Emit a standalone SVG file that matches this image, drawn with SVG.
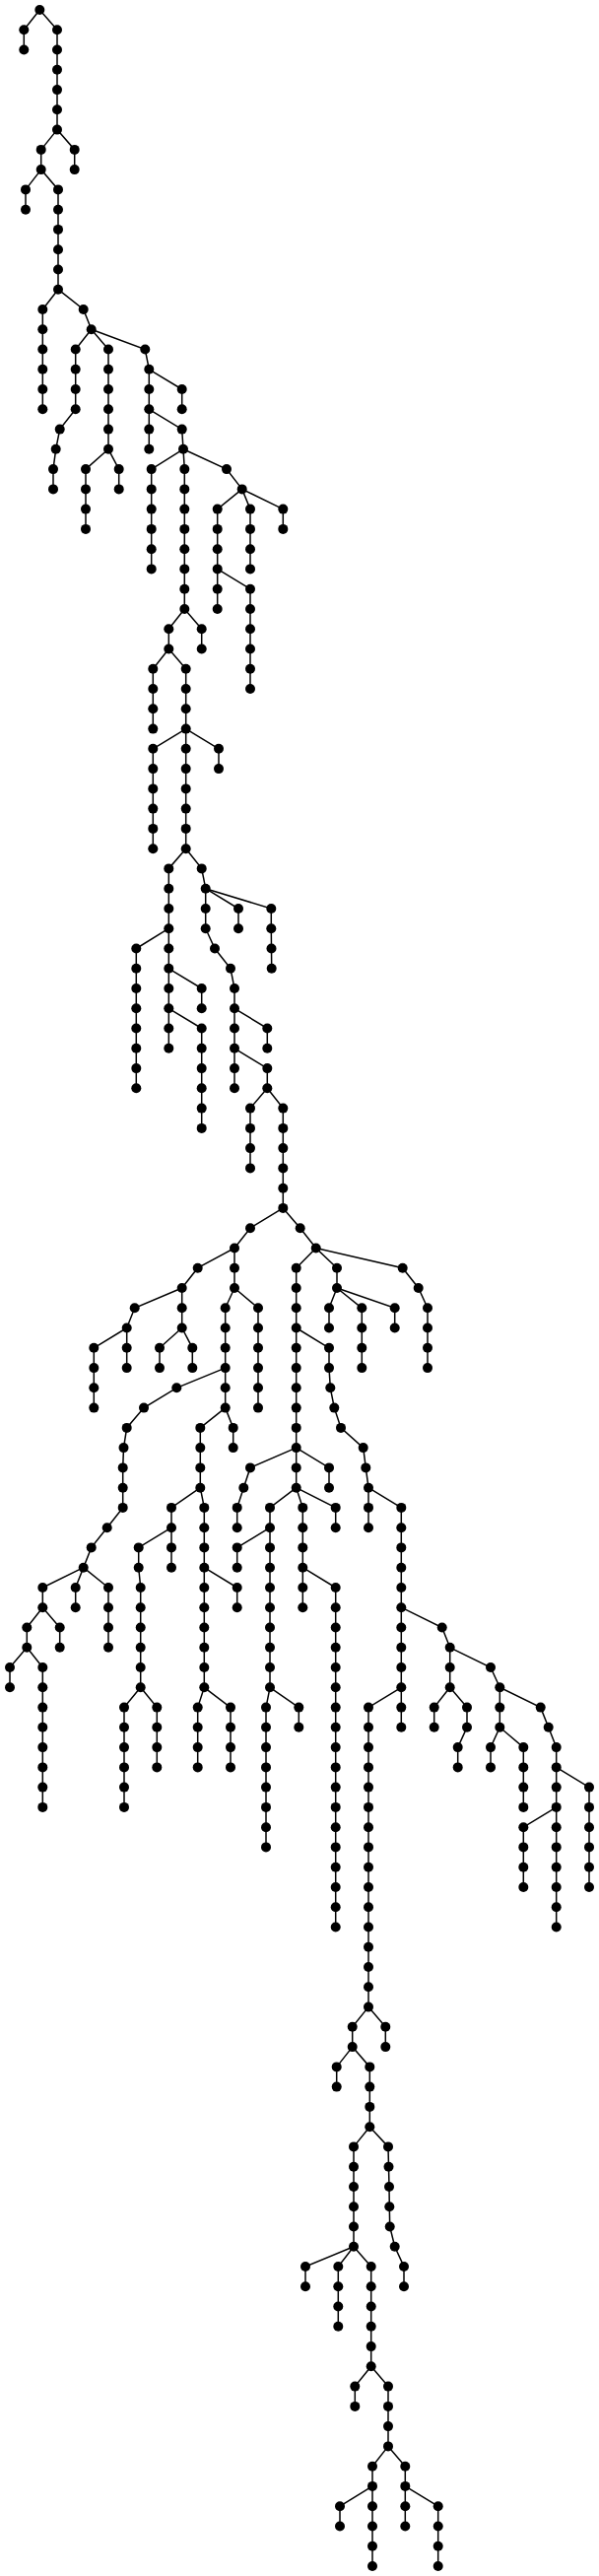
<svg xmlns="http://www.w3.org/2000/svg" width="608" height="2614" viewBox="0 0 608 2614">
<style>
.bg{fill:#fff}
.e path{fill:none;stroke:#000;stroke-width:1.5}
.n circle{fill:#000}
</style>
<rect class="bg" x="0" y="0" width="608" height="2614"/>
<g id="connectors" class="e">
<path d="M40.3 10L24.3 30.3L24.3 50.5"/>
<path d="M40.3 10L58 30.3L58 131.6"/>
<path d="M58 131.6L41.7 151.9L41.7 172.1"/>
<path d="M58 131.6L75.7 151.9L75.7 172.1"/>
<path d="M41.7 172.1L26 192.4L26 212.7"/>
<path d="M41.7 172.1L59 192.4L59 293.7"/>
<path d="M59 293.7L43.3 314L43.3 415.3"/>
<path d="M59 293.7L84.7 314L92.7 334.3"/>
<path d="M92.7 334.3L76.7 354.5L76.7 415.3L60.7 435.6L56.7 455.8L54 476.1L54 496.4"/>
<path d="M92.7 334.3L110 354.5L110 455.8"/>
<path d="M110 455.8L87 476.1L87 536.9"/>
<path d="M110 455.8L120.7 476.1L120.7 496.4"/>
<path d="M92.7 334.3L147.3 354.5L151.3 374.8L151.3 455.8"/>
<path d="M151.3 374.8L184.7 395L184.7 415.3"/>
<path d="M151.3 415.3L184.7 435.6L186 455.8"/>
<path d="M186 455.8L153.7 476.1L153.7 577.4"/>
<path d="M186 455.8L187.3 476.1L187.3 618"/>
<path d="M186 455.8L230 476.1L245.7 496.4"/>
<path d="M245.7 496.4L220.7 516.6L220.7 618"/>
<path d="M245.7 496.4L254 516.6L254 577.4"/>
<path d="M245.7 496.4L287.3 516.6L287.3 536.9"/>
<path d="M220.7 577.4L254 597.7L254 699"/>
<path d="M187.3 618L171.3 638.2L171.3 658.5"/>
<path d="M187.3 618L204.7 638.2L204.7 658.5"/>
<path d="M171.3 658.5L155.3 678.8L155.3 739.6"/>
<path d="M171.3 658.5L188.7 678.8L188.7 739.6"/>
<path d="M188.7 739.6L155.3 759.8L155.3 861.2"/>
<path d="M188.7 739.6L188.7 861.2"/>
<path d="M188.7 739.6L222 759.8L222 780.1"/>
<path d="M188.7 861.2L171.3 881.4L171.3 942.2"/>
<path d="M188.7 861.2L204.7 881.4L208.7 901.7"/>
<path d="M208.7 901.7L208.7 942.2L218 962.5L234 982.8L238 1003L238 1023.3"/>
<path d="M208.7 901.7L242 922L242 942.2"/>
<path d="M208.7 901.7L275.3 922L275.3 942.2L275.5 962.5L275.7 982.8"/>
<path d="M171.3 942.2L138.3 962.5L138.3 1104.3"/>
<path d="M171.3 942.2L171.3 982.8"/>
<path d="M171.3 982.8L171.3 1023.3"/>
<path d="M171.3 982.8L204.7 1003L204.7 1023.3"/>
<path d="M171.3 1023.3L171.3 1063.8"/>
<path d="M171.3 1023.3L204.7 1043.5L204.7 1144.9"/>
<path d="M238 1023.3L238 1063.8"/>
<path d="M238 1023.3L271.3 1043.5L271.3 1063.8"/>
<path d="M238 1063.8L238 1104.3"/>
<path d="M238 1063.8L271.3 1084.1L271.3 1104.3"/>
<path d="M271.3 1104.3L254 1124.6L254 1185.4"/>
<path d="M271.3 1104.3L287.3 1124.6L287.3 1225.9"/>
<path d="M287.3 1225.9L254 1246.2L238 1266.5"/>
<path d="M238 1266.5L200.7 1286.7L184.7 1307"/>
<path d="M238 1266.5L238 1307"/>
<path d="M184.7 1307L136.7 1327.3L128.7 1347.5"/>
<path d="M184.7 1307L184.7 1347.5"/>
<path d="M128.7 1347.5L95.3 1367.8L95.3 1428.6"/>
<path d="M128.7 1347.5L128.7 1388.1"/>
<path d="M184.7 1347.5L162 1367.8L162 1388.1"/>
<path d="M184.7 1347.5L195.3 1367.8L195.3 1388.1"/>
<path d="M238 1307L228.7 1327.3L228.7 1388.1"/>
<path d="M238 1307L262 1327.3L262 1428.6"/>
<path d="M228.7 1388.1L179.3 1408.3L146 1428.6L128.7 1448.9L125.5 1469.1L124.7 1489.4L124.7 1529.9L108.7 1550.2L92.7 1570.4L84.7 1590.7"/>
<path d="M228.7 1388.1L228.7 1428.6"/>
<path d="M228.7 1428.6L203.3 1448.9L203.3 1509.7"/>
<path d="M228.7 1428.6L236.7 1448.9L236.7 1469.1"/>
<path d="M84.7 1590.7L43.3 1611L43.3 1631.2"/>
<path d="M84.7 1590.7L76.7 1611L76.7 1631.2"/>
<path d="M84.7 1590.7L110 1611L110 1671.8"/>
<path d="M43.3 1631.2L27.3 1651.5L27.3 1671.8"/>
<path d="M43.3 1631.2L60.7 1651.5L60.7 1671.8"/>
<path d="M27.3 1671.8L10 1692L10 1712.3"/>
<path d="M27.3 1671.8L43.3 1692L43.3 1833.9"/>
<path d="M203.3 1509.7L174 1529.9L174 1550.2"/>
<path d="M203.3 1509.7L207.3 1529.9L207.3 1590.7"/>
<path d="M174 1550.2L140.7 1570.4L140.7 1590.7L142.7 1611L142.7 1712.3"/>
<path d="M174 1550.2L174 1590.7"/>
<path d="M142.7 1712.3L126 1732.6L126 1833.9"/>
<path d="M142.7 1712.3L159.3 1732.6L159.3 1793.4"/>
<path d="M207.3 1590.7L207.3 1712.3"/>
<path d="M207.3 1590.7L240.7 1611L240.7 1631.2"/>
<path d="M207.3 1712.3L200.7 1732.6L200.7 1793.4"/>
<path d="M207.3 1712.3L234 1732.6L234 1793.4"/>
<path d="M287.3 1225.9L304.7 1246.2L320.7 1266.5"/>
<path d="M320.7 1266.5L300.7 1286.7L300.7 1347.5"/>
<path d="M300.7 1347.5L300.7 1469.1"/>
<path d="M300.7 1347.5L334 1367.8L334 1388.1L335.3 1408.3L339.3 1428.6L346 1448.9L368.7 1469.1L371.3 1489.4L374 1509.7"/>
<path d="M320.7 1266.5L342 1286.7L342 1307"/>
<path d="M342 1307L334 1327.3L334 1347.5"/>
<path d="M342 1307L367.3 1327.3L367.3 1388.1"/>
<path d="M342 1307L400.7 1327.3L400.7 1347.5"/>
<path d="M320.7 1266.5L408.7 1286.7L424.7 1307L434 1327.3L434 1388.1"/>
<path d="M300.7 1469.1L254 1489.4L247.3 1509.7L240.7 1529.9L240.7 1550.2"/>
<path d="M300.7 1469.1L300.7 1509.7"/>
<path d="M300.7 1469.1L334 1489.4L334 1509.7"/>
<path d="M300.7 1509.7L274 1529.9L274 1550.2"/>
<path d="M300.7 1509.7L307.3 1529.9L307.3 1590.7"/>
<path d="M300.7 1509.7L340.7 1529.9L340.7 1550.2"/>
<path d="M274 1550.2L240.7 1570.4L240.7 1590.7"/>
<path d="M274 1550.2L274 1712.3"/>
<path d="M274 1712.3L270 1732.6L270 1874.4"/>
<path d="M274 1712.3L303.3 1732.6L303.3 1752.8"/>
<path d="M307.3 1590.7L307.3 1631.2"/>
<path d="M307.3 1590.7L340.7 1611L340.7 1955.5"/>
<path d="M374 1509.7L374 1550.2"/>
<path d="M374 1509.7L407.3 1529.9L407.3 1631.2"/>
<path d="M407.3 1631.2L407.3 1712.3"/>
<path d="M407.3 1631.2L448.7 1651.5L456.7 1671.8"/>
<path d="M407.3 1712.3L374 1732.6L374 2036.6"/>
<path d="M407.3 1712.3L407.3 1752.8"/>
<path d="M456.7 1671.8L456.7 1712.3"/>
<path d="M456.7 1671.8L498 1692L507.3 1712.3"/>
<path d="M456.7 1712.3L440.7 1732.6L440.7 1752.8"/>
<path d="M456.7 1712.3L474 1732.6L474 1752.8L464.7 1773.1L464.7 1793.4"/>
<path d="M507.3 1712.3L507.3 1752.8"/>
<path d="M507.3 1712.3L548.7 1732.6L556.7 1752.8L564.7 1773.1L564.7 1793.4"/>
<path d="M507.3 1752.8L498 1773.1L498 1793.4"/>
<path d="M507.3 1752.8L531.3 1773.1L531.3 1833.9"/>
<path d="M564.7 1793.4L564.7 1833.9"/>
<path d="M564.7 1793.4L598 1813.6L598 1915"/>
<path d="M564.7 1833.9L531.3 1854.2L531.3 1915"/>
<path d="M564.7 1833.9L564.7 1955.5"/>
<path d="M374 2036.6L357.7 2056.8L357.7 2077.1"/>
<path d="M374 2036.6L391.3 2056.8L391.3 2077.1"/>
<path d="M357.7 2077.1L341.7 2097.4L341.7 2117.6"/>
<path d="M357.7 2077.1L375.3 2097.4L375.3 2158.2"/>
<path d="M375.3 2158.2L359 2178.4L359 2279.8"/>
<path d="M375.3 2158.2L394 2178.4L394.5 2198.7L395 2219L395.3 2239.2L395.7 2259.5L400.7 2279.8L410 2300L410 2320.3"/>
<path d="M359 2279.8L310 2300L310 2320.3"/>
<path d="M359 2279.8L343.3 2300L343.3 2360.8"/>
<path d="M359 2279.8L376.7 2300L376.7 2401.3"/>
<path d="M376.7 2401.3L360.3 2421.6L360.3 2441.9"/>
<path d="M376.7 2401.3L394 2421.6L394 2482.4"/>
<path d="M394 2482.4L378 2502.7L378 2522.9"/>
<path d="M394 2482.4L411.3 2502.7L411.3 2522.9"/>
<path d="M378 2522.9L345 2543.2L345 2563.5"/>
<path d="M378 2522.9L378 2604"/>
<path d="M411.3 2522.9L411.3 2563.5"/>
<path d="M411.3 2522.9L444.7 2543.2L444.7 2604"/>
</g>
<g id="nodes" class="n">
<g id="n0"><circle cx="40.3" cy="10" r="5"/></g>
<g id="n1"><circle cx="24.3" cy="30.3" r="5"/></g>
<g id="n2"><circle cx="24.3" cy="50.5" r="5"/></g>
<g id="n3"><circle cx="58" cy="30.3" r="5"/></g>
<g id="n4"><circle cx="58" cy="50.5" r="5"/></g>
<g id="n5"><circle cx="58" cy="70.8" r="5"/></g>
<g id="n6"><circle cx="58" cy="91.1" r="5"/></g>
<g id="n7"><circle cx="58" cy="111.3" r="5"/></g>
<g id="n8"><circle cx="58" cy="131.6" r="5"/></g>
<g id="n9"><circle cx="41.7" cy="151.9" r="5"/></g>
<g id="n10"><circle cx="41.7" cy="172.1" r="5"/></g>
<g id="n11"><circle cx="75.7" cy="151.9" r="5"/></g>
<g id="n12"><circle cx="75.7" cy="172.1" r="5"/></g>
<g id="n13"><circle cx="26" cy="192.4" r="5"/></g>
<g id="n14"><circle cx="26" cy="212.7" r="5"/></g>
<g id="n15"><circle cx="59" cy="192.4" r="5"/></g>
<g id="n16"><circle cx="59" cy="212.7" r="5"/></g>
<g id="n17"><circle cx="59" cy="232.9" r="5"/></g>
<g id="n18"><circle cx="59" cy="253.2" r="5"/></g>
<g id="n19"><circle cx="59" cy="273.5" r="5"/></g>
<g id="n20"><circle cx="59" cy="293.7" r="5"/></g>
<g id="n21"><circle cx="43.3" cy="314" r="5"/></g>
<g id="n22"><circle cx="43.3" cy="334.3" r="5"/></g>
<g id="n23"><circle cx="43.3" cy="354.5" r="5"/></g>
<g id="n24"><circle cx="43.3" cy="374.8" r="5"/></g>
<g id="n25"><circle cx="43.3" cy="395" r="5"/></g>
<g id="n26"><circle cx="43.3" cy="415.3" r="5"/></g>
<g id="n27"><circle cx="84.7" cy="314" r="5"/></g>
<g id="n28"><circle cx="92.7" cy="334.3" r="5"/></g>
<g id="n29"><circle cx="76.7" cy="354.5" r="5"/></g>
<g id="n30"><circle cx="76.7" cy="374.8" r="5"/></g>
<g id="n31"><circle cx="76.7" cy="395" r="5"/></g>
<g id="n32"><circle cx="76.7" cy="415.3" r="5"/></g>
<g id="n33"><circle cx="60.7" cy="435.6" r="5"/></g>
<g id="n34"><circle cx="56.7" cy="455.8" r="5"/></g>
<g id="n35"><circle cx="54" cy="476.1" r="5"/></g>
<g id="n36"><circle cx="54" cy="496.4" r="5"/></g>
<g id="n37"><circle cx="110" cy="354.5" r="5"/></g>
<g id="n38"><circle cx="110" cy="374.8" r="5"/></g>
<g id="n39"><circle cx="110" cy="395" r="5"/></g>
<g id="n40"><circle cx="110" cy="415.3" r="5"/></g>
<g id="n41"><circle cx="110" cy="435.6" r="5"/></g>
<g id="n42"><circle cx="110" cy="455.8" r="5"/></g>
<g id="n43"><circle cx="87" cy="476.1" r="5"/></g>
<g id="n44"><circle cx="87" cy="496.4" r="5"/></g>
<g id="n45"><circle cx="87" cy="516.6" r="5"/></g>
<g id="n46"><circle cx="87" cy="536.9" r="5"/></g>
<g id="n47"><circle cx="120.7" cy="476.1" r="5"/></g>
<g id="n48"><circle cx="120.7" cy="496.4" r="5"/></g>
<g id="n49"><circle cx="147.3" cy="354.5" r="5"/></g>
<g id="n50"><circle cx="151.3" cy="374.8" r="5"/></g>
<g id="n51"><circle cx="151.3" cy="395" r="5"/></g>
<g id="n52"><circle cx="151.3" cy="415.3" r="5"/></g>
<g id="n53"><circle cx="151.3" cy="435.6" r="5"/></g>
<g id="n54"><circle cx="151.3" cy="455.8" r="5"/></g>
<g id="n55"><circle cx="184.7" cy="395" r="5"/></g>
<g id="n56"><circle cx="184.7" cy="415.3" r="5"/></g>
<g id="n57"><circle cx="184.7" cy="435.6" r="5"/></g>
<g id="n58"><circle cx="186" cy="455.8" r="5"/></g>
<g id="n59"><circle cx="153.7" cy="476.1" r="5"/></g>
<g id="n60"><circle cx="153.7" cy="496.4" r="5"/></g>
<g id="n61"><circle cx="153.7" cy="516.6" r="5"/></g>
<g id="n62"><circle cx="153.7" cy="536.9" r="5"/></g>
<g id="n63"><circle cx="153.7" cy="557.2" r="5"/></g>
<g id="n64"><circle cx="153.7" cy="577.4" r="5"/></g>
<g id="n65"><circle cx="187.3" cy="476.1" r="5"/></g>
<g id="n66"><circle cx="187.3" cy="496.4" r="5"/></g>
<g id="n67"><circle cx="187.3" cy="516.6" r="5"/></g>
<g id="n68"><circle cx="187.3" cy="536.9" r="5"/></g>
<g id="n69"><circle cx="187.3" cy="557.2" r="5"/></g>
<g id="n70"><circle cx="187.3" cy="577.4" r="5"/></g>
<g id="n71"><circle cx="187.3" cy="597.7" r="5"/></g>
<g id="n72"><circle cx="187.3" cy="618" r="5"/></g>
<g id="n73"><circle cx="230" cy="476.1" r="5"/></g>
<g id="n74"><circle cx="245.7" cy="496.4" r="5"/></g>
<g id="n75"><circle cx="220.7" cy="516.6" r="5"/></g>
<g id="n76"><circle cx="220.7" cy="536.9" r="5"/></g>
<g id="n77"><circle cx="220.7" cy="557.2" r="5"/></g>
<g id="n78"><circle cx="220.7" cy="577.4" r="5"/></g>
<g id="n79"><circle cx="220.7" cy="597.7" r="5"/></g>
<g id="n80"><circle cx="220.7" cy="618" r="5"/></g>
<g id="n81"><circle cx="254" cy="516.6" r="5"/></g>
<g id="n82"><circle cx="254" cy="536.9" r="5"/></g>
<g id="n83"><circle cx="254" cy="557.2" r="5"/></g>
<g id="n84"><circle cx="254" cy="577.4" r="5"/></g>
<g id="n85"><circle cx="287.3" cy="516.6" r="5"/></g>
<g id="n86"><circle cx="287.3" cy="536.9" r="5"/></g>
<g id="n87"><circle cx="254" cy="597.7" r="5"/></g>
<g id="n88"><circle cx="254" cy="618" r="5"/></g>
<g id="n89"><circle cx="254" cy="638.2" r="5"/></g>
<g id="n90"><circle cx="254" cy="658.5" r="5"/></g>
<g id="n91"><circle cx="254" cy="678.8" r="5"/></g>
<g id="n92"><circle cx="254" cy="699" r="5"/></g>
<g id="n93"><circle cx="171.3" cy="638.2" r="5"/></g>
<g id="n94"><circle cx="171.3" cy="658.5" r="5"/></g>
<g id="n95"><circle cx="204.7" cy="638.2" r="5"/></g>
<g id="n96"><circle cx="204.7" cy="658.5" r="5"/></g>
<g id="n97"><circle cx="155.3" cy="678.8" r="5"/></g>
<g id="n98"><circle cx="155.3" cy="699" r="5"/></g>
<g id="n99"><circle cx="155.3" cy="719.3" r="5"/></g>
<g id="n100"><circle cx="155.3" cy="739.6" r="5"/></g>
<g id="n101"><circle cx="188.7" cy="678.8" r="5"/></g>
<g id="n102"><circle cx="188.7" cy="699" r="5"/></g>
<g id="n103"><circle cx="188.7" cy="719.3" r="5"/></g>
<g id="n104"><circle cx="188.7" cy="739.6" r="5"/></g>
<g id="n105"><circle cx="155.3" cy="759.8" r="5"/></g>
<g id="n106"><circle cx="155.3" cy="780.1" r="5"/></g>
<g id="n107"><circle cx="155.3" cy="800.4" r="5"/></g>
<g id="n108"><circle cx="155.3" cy="820.6" r="5"/></g>
<g id="n109"><circle cx="155.3" cy="840.9" r="5"/></g>
<g id="n110"><circle cx="155.3" cy="861.2" r="5"/></g>
<g id="n111"><circle cx="188.7" cy="759.8" r="5"/></g>
<g id="n112"><circle cx="188.7" cy="780.1" r="5"/></g>
<g id="n113"><circle cx="188.7" cy="800.4" r="5"/></g>
<g id="n114"><circle cx="188.7" cy="820.6" r="5"/></g>
<g id="n115"><circle cx="188.7" cy="840.9" r="5"/></g>
<g id="n116"><circle cx="188.7" cy="861.2" r="5"/></g>
<g id="n117"><circle cx="222" cy="759.8" r="5"/></g>
<g id="n118"><circle cx="222" cy="780.1" r="5"/></g>
<g id="n119"><circle cx="171.3" cy="881.4" r="5"/></g>
<g id="n120"><circle cx="171.3" cy="901.7" r="5"/></g>
<g id="n121"><circle cx="171.3" cy="922" r="5"/></g>
<g id="n122"><circle cx="171.3" cy="942.2" r="5"/></g>
<g id="n123"><circle cx="204.7" cy="881.4" r="5"/></g>
<g id="n124"><circle cx="208.7" cy="901.7" r="5"/></g>
<g id="n125"><circle cx="208.7" cy="922" r="5"/></g>
<g id="n126"><circle cx="208.7" cy="942.2" r="5"/></g>
<g id="n127"><circle cx="218" cy="962.5" r="5"/></g>
<g id="n128"><circle cx="234" cy="982.8" r="5"/></g>
<g id="n129"><circle cx="238" cy="1003" r="5"/></g>
<g id="n130"><circle cx="238" cy="1023.3" r="5"/></g>
<g id="n131"><circle cx="242" cy="922" r="5"/></g>
<g id="n132"><circle cx="242" cy="942.2" r="5"/></g>
<g id="n133"><circle cx="275.3" cy="922" r="5"/></g>
<g id="n134"><circle cx="275.3" cy="942.2" r="5"/></g>
<g id="n135"><circle cx="275.5" cy="962.5" r="5"/></g>
<g id="n136"><circle cx="275.7" cy="982.8" r="5"/></g>
<g id="n137"><circle cx="138.3" cy="962.5" r="5"/></g>
<g id="n138"><circle cx="138.3" cy="982.8" r="5"/></g>
<g id="n139"><circle cx="138.3" cy="1003" r="5"/></g>
<g id="n140"><circle cx="138.3" cy="1023.3" r="5"/></g>
<g id="n141"><circle cx="138.3" cy="1043.5" r="5"/></g>
<g id="n142"><circle cx="138.3" cy="1063.8" r="5"/></g>
<g id="n143"><circle cx="138.3" cy="1084.1" r="5"/></g>
<g id="n144"><circle cx="138.3" cy="1104.3" r="5"/></g>
<g id="n145"><circle cx="171.3" cy="962.5" r="5"/></g>
<g id="n146"><circle cx="171.3" cy="982.8" r="5"/></g>
<g id="n147"><circle cx="171.3" cy="1003" r="5"/></g>
<g id="n148"><circle cx="171.3" cy="1023.3" r="5"/></g>
<g id="n149"><circle cx="204.7" cy="1003" r="5"/></g>
<g id="n150"><circle cx="204.7" cy="1023.3" r="5"/></g>
<g id="n151"><circle cx="171.3" cy="1043.5" r="5"/></g>
<g id="n152"><circle cx="171.3" cy="1063.8" r="5"/></g>
<g id="n153"><circle cx="204.7" cy="1043.5" r="5"/></g>
<g id="n154"><circle cx="204.7" cy="1063.8" r="5"/></g>
<g id="n155"><circle cx="204.7" cy="1084.1" r="5"/></g>
<g id="n156"><circle cx="204.7" cy="1104.3" r="5"/></g>
<g id="n157"><circle cx="204.7" cy="1124.6" r="5"/></g>
<g id="n158"><circle cx="204.7" cy="1144.9" r="5"/></g>
<g id="n159"><circle cx="238" cy="1043.5" r="5"/></g>
<g id="n160"><circle cx="238" cy="1063.8" r="5"/></g>
<g id="n161"><circle cx="271.3" cy="1043.5" r="5"/></g>
<g id="n162"><circle cx="271.3" cy="1063.8" r="5"/></g>
<g id="n163"><circle cx="238" cy="1084.1" r="5"/></g>
<g id="n164"><circle cx="238" cy="1104.3" r="5"/></g>
<g id="n165"><circle cx="271.3" cy="1084.1" r="5"/></g>
<g id="n166"><circle cx="271.3" cy="1104.3" r="5"/></g>
<g id="n167"><circle cx="254" cy="1124.6" r="5"/></g>
<g id="n168"><circle cx="254" cy="1144.9" r="5"/></g>
<g id="n169"><circle cx="254" cy="1165.1" r="5"/></g>
<g id="n170"><circle cx="254" cy="1185.4" r="5"/></g>
<g id="n171"><circle cx="287.3" cy="1124.6" r="5"/></g>
<g id="n172"><circle cx="287.3" cy="1144.9" r="5"/></g>
<g id="n173"><circle cx="287.3" cy="1165.1" r="5"/></g>
<g id="n174"><circle cx="287.3" cy="1185.4" r="5"/></g>
<g id="n175"><circle cx="287.3" cy="1205.7" r="5"/></g>
<g id="n176"><circle cx="287.3" cy="1225.9" r="5"/></g>
<g id="n177"><circle cx="254" cy="1246.2" r="5"/></g>
<g id="n178"><circle cx="238" cy="1266.5" r="5"/></g>
<g id="n179"><circle cx="200.7" cy="1286.7" r="5"/></g>
<g id="n180"><circle cx="184.7" cy="1307" r="5"/></g>
<g id="n181"><circle cx="238" cy="1286.7" r="5"/></g>
<g id="n182"><circle cx="238" cy="1307" r="5"/></g>
<g id="n183"><circle cx="136.7" cy="1327.3" r="5"/></g>
<g id="n184"><circle cx="128.7" cy="1347.5" r="5"/></g>
<g id="n185"><circle cx="184.7" cy="1327.3" r="5"/></g>
<g id="n186"><circle cx="184.7" cy="1347.5" r="5"/></g>
<g id="n187"><circle cx="95.3" cy="1367.8" r="5"/></g>
<g id="n188"><circle cx="95.3" cy="1388.1" r="5"/></g>
<g id="n189"><circle cx="95.3" cy="1408.3" r="5"/></g>
<g id="n190"><circle cx="95.3" cy="1428.6" r="5"/></g>
<g id="n191"><circle cx="128.7" cy="1367.8" r="5"/></g>
<g id="n192"><circle cx="128.7" cy="1388.1" r="5"/></g>
<g id="n193"><circle cx="162" cy="1367.8" r="5"/></g>
<g id="n194"><circle cx="162" cy="1388.1" r="5"/></g>
<g id="n195"><circle cx="195.3" cy="1367.8" r="5"/></g>
<g id="n196"><circle cx="195.3" cy="1388.1" r="5"/></g>
<g id="n197"><circle cx="228.7" cy="1327.3" r="5"/></g>
<g id="n198"><circle cx="228.7" cy="1347.5" r="5"/></g>
<g id="n199"><circle cx="228.7" cy="1367.8" r="5"/></g>
<g id="n200"><circle cx="228.7" cy="1388.1" r="5"/></g>
<g id="n201"><circle cx="262" cy="1327.3" r="5"/></g>
<g id="n202"><circle cx="262" cy="1347.5" r="5"/></g>
<g id="n203"><circle cx="262" cy="1367.8" r="5"/></g>
<g id="n204"><circle cx="262" cy="1388.1" r="5"/></g>
<g id="n205"><circle cx="262" cy="1408.3" r="5"/></g>
<g id="n206"><circle cx="262" cy="1428.6" r="5"/></g>
<g id="n207"><circle cx="179.3" cy="1408.3" r="5"/></g>
<g id="n208"><circle cx="146" cy="1428.6" r="5"/></g>
<g id="n209"><circle cx="128.7" cy="1448.9" r="5"/></g>
<g id="n210"><circle cx="125.5" cy="1469.1" r="5"/></g>
<g id="n211"><circle cx="124.7" cy="1489.4" r="5"/></g>
<g id="n212"><circle cx="124.7" cy="1509.7" r="5"/></g>
<g id="n213"><circle cx="124.7" cy="1529.9" r="5"/></g>
<g id="n214"><circle cx="108.7" cy="1550.2" r="5"/></g>
<g id="n215"><circle cx="92.7" cy="1570.4" r="5"/></g>
<g id="n216"><circle cx="84.7" cy="1590.7" r="5"/></g>
<g id="n217"><circle cx="228.7" cy="1408.3" r="5"/></g>
<g id="n218"><circle cx="228.7" cy="1428.6" r="5"/></g>
<g id="n219"><circle cx="203.3" cy="1448.9" r="5"/></g>
<g id="n220"><circle cx="203.3" cy="1469.1" r="5"/></g>
<g id="n221"><circle cx="203.3" cy="1489.4" r="5"/></g>
<g id="n222"><circle cx="203.3" cy="1509.7" r="5"/></g>
<g id="n223"><circle cx="236.7" cy="1448.9" r="5"/></g>
<g id="n224"><circle cx="236.7" cy="1469.1" r="5"/></g>
<g id="n225"><circle cx="43.3" cy="1611" r="5"/></g>
<g id="n226"><circle cx="43.3" cy="1631.2" r="5"/></g>
<g id="n227"><circle cx="76.7" cy="1611" r="5"/></g>
<g id="n228"><circle cx="76.7" cy="1631.2" r="5"/></g>
<g id="n229"><circle cx="110" cy="1611" r="5"/></g>
<g id="n230"><circle cx="110" cy="1631.2" r="5"/></g>
<g id="n231"><circle cx="110" cy="1651.5" r="5"/></g>
<g id="n232"><circle cx="110" cy="1671.8" r="5"/></g>
<g id="n233"><circle cx="27.3" cy="1651.5" r="5"/></g>
<g id="n234"><circle cx="27.3" cy="1671.8" r="5"/></g>
<g id="n235"><circle cx="60.7" cy="1651.5" r="5"/></g>
<g id="n236"><circle cx="60.7" cy="1671.8" r="5"/></g>
<g id="n237"><circle cx="10" cy="1692" r="5"/></g>
<g id="n238"><circle cx="10" cy="1712.3" r="5"/></g>
<g id="n239"><circle cx="43.3" cy="1692" r="5"/></g>
<g id="n240"><circle cx="43.3" cy="1712.3" r="5"/></g>
<g id="n241"><circle cx="43.3" cy="1732.6" r="5"/></g>
<g id="n242"><circle cx="43.3" cy="1752.8" r="5"/></g>
<g id="n243"><circle cx="43.3" cy="1773.1" r="5"/></g>
<g id="n244"><circle cx="43.3" cy="1793.4" r="5"/></g>
<g id="n245"><circle cx="43.3" cy="1813.6" r="5"/></g>
<g id="n246"><circle cx="43.3" cy="1833.9" r="5"/></g>
<g id="n247"><circle cx="174" cy="1529.9" r="5"/></g>
<g id="n248"><circle cx="174" cy="1550.2" r="5"/></g>
<g id="n249"><circle cx="207.3" cy="1529.9" r="5"/></g>
<g id="n250"><circle cx="207.3" cy="1550.2" r="5"/></g>
<g id="n251"><circle cx="207.3" cy="1570.4" r="5"/></g>
<g id="n252"><circle cx="207.3" cy="1590.7" r="5"/></g>
<g id="n253"><circle cx="140.7" cy="1570.4" r="5"/></g>
<g id="n254"><circle cx="140.7" cy="1590.7" r="5"/></g>
<g id="n255"><circle cx="142.7" cy="1611" r="5"/></g>
<g id="n256"><circle cx="142.7" cy="1631.2" r="5"/></g>
<g id="n257"><circle cx="142.7" cy="1651.5" r="5"/></g>
<g id="n258"><circle cx="142.7" cy="1671.8" r="5"/></g>
<g id="n259"><circle cx="142.7" cy="1692" r="5"/></g>
<g id="n260"><circle cx="142.7" cy="1712.3" r="5"/></g>
<g id="n261"><circle cx="174" cy="1570.4" r="5"/></g>
<g id="n262"><circle cx="174" cy="1590.7" r="5"/></g>
<g id="n263"><circle cx="126" cy="1732.6" r="5"/></g>
<g id="n264"><circle cx="126" cy="1752.8" r="5"/></g>
<g id="n265"><circle cx="126" cy="1773.1" r="5"/></g>
<g id="n266"><circle cx="126" cy="1793.4" r="5"/></g>
<g id="n267"><circle cx="126" cy="1813.6" r="5"/></g>
<g id="n268"><circle cx="126" cy="1833.9" r="5"/></g>
<g id="n269"><circle cx="159.3" cy="1732.6" r="5"/></g>
<g id="n270"><circle cx="159.3" cy="1752.8" r="5"/></g>
<g id="n271"><circle cx="159.3" cy="1773.1" r="5"/></g>
<g id="n272"><circle cx="159.3" cy="1793.4" r="5"/></g>
<g id="n273"><circle cx="207.3" cy="1611" r="5"/></g>
<g id="n274"><circle cx="207.3" cy="1631.2" r="5"/></g>
<g id="n275"><circle cx="207.3" cy="1651.5" r="5"/></g>
<g id="n276"><circle cx="207.3" cy="1671.8" r="5"/></g>
<g id="n277"><circle cx="207.3" cy="1692" r="5"/></g>
<g id="n278"><circle cx="207.3" cy="1712.3" r="5"/></g>
<g id="n279"><circle cx="240.7" cy="1611" r="5"/></g>
<g id="n280"><circle cx="240.7" cy="1631.2" r="5"/></g>
<g id="n281"><circle cx="200.7" cy="1732.6" r="5"/></g>
<g id="n282"><circle cx="200.7" cy="1752.8" r="5"/></g>
<g id="n283"><circle cx="200.7" cy="1773.1" r="5"/></g>
<g id="n284"><circle cx="200.7" cy="1793.4" r="5"/></g>
<g id="n285"><circle cx="234" cy="1732.6" r="5"/></g>
<g id="n286"><circle cx="234" cy="1752.8" r="5"/></g>
<g id="n287"><circle cx="234" cy="1773.1" r="5"/></g>
<g id="n288"><circle cx="234" cy="1793.4" r="5"/></g>
<g id="n289"><circle cx="304.7" cy="1246.2" r="5"/></g>
<g id="n290"><circle cx="320.7" cy="1266.5" r="5"/></g>
<g id="n291"><circle cx="300.7" cy="1286.7" r="5"/></g>
<g id="n292"><circle cx="300.7" cy="1307" r="5"/></g>
<g id="n293"><circle cx="300.7" cy="1327.3" r="5"/></g>
<g id="n294"><circle cx="300.7" cy="1347.5" r="5"/></g>
<g id="n295"><circle cx="300.7" cy="1367.8" r="5"/></g>
<g id="n296"><circle cx="300.7" cy="1388.1" r="5"/></g>
<g id="n297"><circle cx="300.7" cy="1408.3" r="5"/></g>
<g id="n298"><circle cx="300.7" cy="1428.6" r="5"/></g>
<g id="n299"><circle cx="300.7" cy="1448.9" r="5"/></g>
<g id="n300"><circle cx="300.7" cy="1469.1" r="5"/></g>
<g id="n301"><circle cx="334" cy="1367.8" r="5"/></g>
<g id="n302"><circle cx="334" cy="1388.1" r="5"/></g>
<g id="n303"><circle cx="335.3" cy="1408.3" r="5"/></g>
<g id="n304"><circle cx="339.3" cy="1428.6" r="5"/></g>
<g id="n305"><circle cx="346" cy="1448.9" r="5"/></g>
<g id="n306"><circle cx="368.7" cy="1469.1" r="5"/></g>
<g id="n307"><circle cx="371.3" cy="1489.4" r="5"/></g>
<g id="n308"><circle cx="374" cy="1509.7" r="5"/></g>
<g id="n309"><circle cx="342" cy="1286.7" r="5"/></g>
<g id="n310"><circle cx="342" cy="1307" r="5"/></g>
<g id="n311"><circle cx="334" cy="1327.3" r="5"/></g>
<g id="n312"><circle cx="334" cy="1347.5" r="5"/></g>
<g id="n313"><circle cx="367.3" cy="1327.3" r="5"/></g>
<g id="n314"><circle cx="367.3" cy="1347.5" r="5"/></g>
<g id="n315"><circle cx="367.3" cy="1367.8" r="5"/></g>
<g id="n316"><circle cx="367.3" cy="1388.1" r="5"/></g>
<g id="n317"><circle cx="400.7" cy="1327.3" r="5"/></g>
<g id="n318"><circle cx="400.7" cy="1347.5" r="5"/></g>
<g id="n319"><circle cx="408.7" cy="1286.7" r="5"/></g>
<g id="n320"><circle cx="424.7" cy="1307" r="5"/></g>
<g id="n321"><circle cx="434" cy="1327.3" r="5"/></g>
<g id="n322"><circle cx="434" cy="1347.5" r="5"/></g>
<g id="n323"><circle cx="434" cy="1367.8" r="5"/></g>
<g id="n324"><circle cx="434" cy="1388.1" r="5"/></g>
<g id="n325"><circle cx="254" cy="1489.4" r="5"/></g>
<g id="n326"><circle cx="247.3" cy="1509.7" r="5"/></g>
<g id="n327"><circle cx="240.7" cy="1529.9" r="5"/></g>
<g id="n328"><circle cx="240.7" cy="1550.2" r="5"/></g>
<g id="n329"><circle cx="300.7" cy="1489.4" r="5"/></g>
<g id="n330"><circle cx="300.7" cy="1509.7" r="5"/></g>
<g id="n331"><circle cx="334" cy="1489.4" r="5"/></g>
<g id="n332"><circle cx="334" cy="1509.7" r="5"/></g>
<g id="n333"><circle cx="274" cy="1529.9" r="5"/></g>
<g id="n334"><circle cx="274" cy="1550.2" r="5"/></g>
<g id="n335"><circle cx="307.3" cy="1529.9" r="5"/></g>
<g id="n336"><circle cx="307.3" cy="1550.2" r="5"/></g>
<g id="n337"><circle cx="307.3" cy="1570.4" r="5"/></g>
<g id="n338"><circle cx="307.3" cy="1590.7" r="5"/></g>
<g id="n339"><circle cx="340.7" cy="1529.9" r="5"/></g>
<g id="n340"><circle cx="340.7" cy="1550.2" r="5"/></g>
<g id="n341"><circle cx="240.7" cy="1570.4" r="5"/></g>
<g id="n342"><circle cx="240.7" cy="1590.7" r="5"/></g>
<g id="n343"><circle cx="274" cy="1570.4" r="5"/></g>
<g id="n344"><circle cx="274" cy="1590.7" r="5"/></g>
<g id="n345"><circle cx="274" cy="1611" r="5"/></g>
<g id="n346"><circle cx="274" cy="1631.2" r="5"/></g>
<g id="n347"><circle cx="274" cy="1651.5" r="5"/></g>
<g id="n348"><circle cx="274" cy="1671.8" r="5"/></g>
<g id="n349"><circle cx="274" cy="1692" r="5"/></g>
<g id="n350"><circle cx="274" cy="1712.3" r="5"/></g>
<g id="n351"><circle cx="270" cy="1732.6" r="5"/></g>
<g id="n352"><circle cx="270" cy="1752.8" r="5"/></g>
<g id="n353"><circle cx="270" cy="1773.1" r="5"/></g>
<g id="n354"><circle cx="270" cy="1793.4" r="5"/></g>
<g id="n355"><circle cx="270" cy="1813.6" r="5"/></g>
<g id="n356"><circle cx="270" cy="1833.9" r="5"/></g>
<g id="n357"><circle cx="270" cy="1854.2" r="5"/></g>
<g id="n358"><circle cx="270" cy="1874.4" r="5"/></g>
<g id="n359"><circle cx="303.3" cy="1732.6" r="5"/></g>
<g id="n360"><circle cx="303.3" cy="1752.8" r="5"/></g>
<g id="n361"><circle cx="307.3" cy="1611" r="5"/></g>
<g id="n362"><circle cx="307.3" cy="1631.2" r="5"/></g>
<g id="n363"><circle cx="340.7" cy="1611" r="5"/></g>
<g id="n364"><circle cx="340.7" cy="1631.2" r="5"/></g>
<g id="n365"><circle cx="340.7" cy="1651.5" r="5"/></g>
<g id="n366"><circle cx="340.7" cy="1671.8" r="5"/></g>
<g id="n367"><circle cx="340.7" cy="1692" r="5"/></g>
<g id="n368"><circle cx="340.7" cy="1712.3" r="5"/></g>
<g id="n369"><circle cx="340.7" cy="1732.6" r="5"/></g>
<g id="n370"><circle cx="340.7" cy="1752.8" r="5"/></g>
<g id="n371"><circle cx="340.7" cy="1773.1" r="5"/></g>
<g id="n372"><circle cx="340.7" cy="1793.4" r="5"/></g>
<g id="n373"><circle cx="340.7" cy="1813.6" r="5"/></g>
<g id="n374"><circle cx="340.7" cy="1833.9" r="5"/></g>
<g id="n375"><circle cx="340.7" cy="1854.2" r="5"/></g>
<g id="n376"><circle cx="340.7" cy="1874.4" r="5"/></g>
<g id="n377"><circle cx="340.7" cy="1894.7" r="5"/></g>
<g id="n378"><circle cx="340.7" cy="1915" r="5"/></g>
<g id="n379"><circle cx="340.7" cy="1935.2" r="5"/></g>
<g id="n380"><circle cx="340.7" cy="1955.5" r="5"/></g>
<g id="n381"><circle cx="374" cy="1529.9" r="5"/></g>
<g id="n382"><circle cx="374" cy="1550.2" r="5"/></g>
<g id="n383"><circle cx="407.3" cy="1529.9" r="5"/></g>
<g id="n384"><circle cx="407.3" cy="1550.2" r="5"/></g>
<g id="n385"><circle cx="407.3" cy="1570.4" r="5"/></g>
<g id="n386"><circle cx="407.3" cy="1590.7" r="5"/></g>
<g id="n387"><circle cx="407.3" cy="1611" r="5"/></g>
<g id="n388"><circle cx="407.3" cy="1631.2" r="5"/></g>
<g id="n389"><circle cx="407.3" cy="1651.5" r="5"/></g>
<g id="n390"><circle cx="407.3" cy="1671.8" r="5"/></g>
<g id="n391"><circle cx="407.3" cy="1692" r="5"/></g>
<g id="n392"><circle cx="407.3" cy="1712.3" r="5"/></g>
<g id="n393"><circle cx="448.7" cy="1651.5" r="5"/></g>
<g id="n394"><circle cx="456.7" cy="1671.8" r="5"/></g>
<g id="n395"><circle cx="374" cy="1732.6" r="5"/></g>
<g id="n396"><circle cx="374" cy="1752.8" r="5"/></g>
<g id="n397"><circle cx="374" cy="1773.1" r="5"/></g>
<g id="n398"><circle cx="374" cy="1793.4" r="5"/></g>
<g id="n399"><circle cx="374" cy="1813.6" r="5"/></g>
<g id="n400"><circle cx="374" cy="1833.9" r="5"/></g>
<g id="n401"><circle cx="374" cy="1854.2" r="5"/></g>
<g id="n402"><circle cx="374" cy="1874.4" r="5"/></g>
<g id="n403"><circle cx="374" cy="1894.7" r="5"/></g>
<g id="n404"><circle cx="374" cy="1915" r="5"/></g>
<g id="n405"><circle cx="374" cy="1935.2" r="5"/></g>
<g id="n406"><circle cx="374" cy="1955.5" r="5"/></g>
<g id="n407"><circle cx="374" cy="1975.8" r="5"/></g>
<g id="n408"><circle cx="374" cy="1996" r="5"/></g>
<g id="n409"><circle cx="374" cy="2016.3" r="5"/></g>
<g id="n410"><circle cx="374" cy="2036.6" r="5"/></g>
<g id="n411"><circle cx="407.3" cy="1732.6" r="5"/></g>
<g id="n412"><circle cx="407.3" cy="1752.8" r="5"/></g>
<g id="n413"><circle cx="456.7" cy="1692" r="5"/></g>
<g id="n414"><circle cx="456.7" cy="1712.3" r="5"/></g>
<g id="n415"><circle cx="498" cy="1692" r="5"/></g>
<g id="n416"><circle cx="507.3" cy="1712.3" r="5"/></g>
<g id="n417"><circle cx="440.7" cy="1732.6" r="5"/></g>
<g id="n418"><circle cx="440.7" cy="1752.8" r="5"/></g>
<g id="n419"><circle cx="474" cy="1732.6" r="5"/></g>
<g id="n420"><circle cx="474" cy="1752.8" r="5"/></g>
<g id="n421"><circle cx="464.7" cy="1773.1" r="5"/></g>
<g id="n422"><circle cx="464.7" cy="1793.4" r="5"/></g>
<g id="n423"><circle cx="507.3" cy="1732.6" r="5"/></g>
<g id="n424"><circle cx="507.3" cy="1752.8" r="5"/></g>
<g id="n425"><circle cx="548.7" cy="1732.6" r="5"/></g>
<g id="n426"><circle cx="556.7" cy="1752.8" r="5"/></g>
<g id="n427"><circle cx="564.7" cy="1773.1" r="5"/></g>
<g id="n428"><circle cx="564.7" cy="1793.4" r="5"/></g>
<g id="n429"><circle cx="498" cy="1773.1" r="5"/></g>
<g id="n430"><circle cx="498" cy="1793.4" r="5"/></g>
<g id="n431"><circle cx="531.3" cy="1773.1" r="5"/></g>
<g id="n432"><circle cx="531.3" cy="1793.4" r="5"/></g>
<g id="n433"><circle cx="531.3" cy="1813.6" r="5"/></g>
<g id="n434"><circle cx="531.3" cy="1833.9" r="5"/></g>
<g id="n435"><circle cx="564.7" cy="1813.6" r="5"/></g>
<g id="n436"><circle cx="564.7" cy="1833.9" r="5"/></g>
<g id="n437"><circle cx="598" cy="1813.6" r="5"/></g>
<g id="n438"><circle cx="598" cy="1833.9" r="5"/></g>
<g id="n439"><circle cx="598" cy="1854.2" r="5"/></g>
<g id="n440"><circle cx="598" cy="1874.4" r="5"/></g>
<g id="n441"><circle cx="598" cy="1894.7" r="5"/></g>
<g id="n442"><circle cx="598" cy="1915" r="5"/></g>
<g id="n443"><circle cx="531.3" cy="1854.2" r="5"/></g>
<g id="n444"><circle cx="531.3" cy="1874.4" r="5"/></g>
<g id="n445"><circle cx="531.3" cy="1894.7" r="5"/></g>
<g id="n446"><circle cx="531.3" cy="1915" r="5"/></g>
<g id="n447"><circle cx="564.7" cy="1854.2" r="5"/></g>
<g id="n448"><circle cx="564.7" cy="1874.4" r="5"/></g>
<g id="n449"><circle cx="564.7" cy="1894.7" r="5"/></g>
<g id="n450"><circle cx="564.7" cy="1915" r="5"/></g>
<g id="n451"><circle cx="564.7" cy="1935.2" r="5"/></g>
<g id="n452"><circle cx="564.7" cy="1955.5" r="5"/></g>
<g id="n453"><circle cx="357.7" cy="2056.8" r="5"/></g>
<g id="n454"><circle cx="357.7" cy="2077.1" r="5"/></g>
<g id="n455"><circle cx="391.3" cy="2056.8" r="5"/></g>
<g id="n456"><circle cx="391.3" cy="2077.1" r="5"/></g>
<g id="n457"><circle cx="341.7" cy="2097.4" r="5"/></g>
<g id="n458"><circle cx="341.7" cy="2117.6" r="5"/></g>
<g id="n459"><circle cx="375.3" cy="2097.4" r="5"/></g>
<g id="n460"><circle cx="375.3" cy="2117.6" r="5"/></g>
<g id="n461"><circle cx="375.3" cy="2137.9" r="5"/></g>
<g id="n462"><circle cx="375.3" cy="2158.2" r="5"/></g>
<g id="n463"><circle cx="359" cy="2178.4" r="5"/></g>
<g id="n464"><circle cx="359" cy="2198.7" r="5"/></g>
<g id="n465"><circle cx="359" cy="2219" r="5"/></g>
<g id="n466"><circle cx="359" cy="2239.2" r="5"/></g>
<g id="n467"><circle cx="359" cy="2259.5" r="5"/></g>
<g id="n468"><circle cx="359" cy="2279.8" r="5"/></g>
<g id="n469"><circle cx="394" cy="2178.4" r="5"/></g>
<g id="n470"><circle cx="394.5" cy="2198.7" r="5"/></g>
<g id="n471"><circle cx="395" cy="2219" r="5"/></g>
<g id="n472"><circle cx="395.3" cy="2239.2" r="5"/></g>
<g id="n473"><circle cx="395.7" cy="2259.5" r="5"/></g>
<g id="n474"><circle cx="400.7" cy="2279.8" r="5"/></g>
<g id="n475"><circle cx="410" cy="2300" r="5"/></g>
<g id="n476"><circle cx="410" cy="2320.3" r="5"/></g>
<g id="n477"><circle cx="310" cy="2300" r="5"/></g>
<g id="n478"><circle cx="310" cy="2320.3" r="5"/></g>
<g id="n479"><circle cx="343.3" cy="2300" r="5"/></g>
<g id="n480"><circle cx="343.3" cy="2320.3" r="5"/></g>
<g id="n481"><circle cx="343.3" cy="2340.5" r="5"/></g>
<g id="n482"><circle cx="343.3" cy="2360.8" r="5"/></g>
<g id="n483"><circle cx="376.7" cy="2300" r="5"/></g>
<g id="n484"><circle cx="376.7" cy="2320.3" r="5"/></g>
<g id="n485"><circle cx="376.7" cy="2340.5" r="5"/></g>
<g id="n486"><circle cx="376.7" cy="2360.8" r="5"/></g>
<g id="n487"><circle cx="376.7" cy="2381.1" r="5"/></g>
<g id="n488"><circle cx="376.7" cy="2401.3" r="5"/></g>
<g id="n489"><circle cx="360.3" cy="2421.6" r="5"/></g>
<g id="n490"><circle cx="360.3" cy="2441.9" r="5"/></g>
<g id="n491"><circle cx="394" cy="2421.6" r="5"/></g>
<g id="n492"><circle cx="394" cy="2441.9" r="5"/></g>
<g id="n493"><circle cx="394" cy="2462.1" r="5"/></g>
<g id="n494"><circle cx="394" cy="2482.4" r="5"/></g>
<g id="n495"><circle cx="378" cy="2502.7" r="5"/></g>
<g id="n496"><circle cx="378" cy="2522.9" r="5"/></g>
<g id="n497"><circle cx="411.3" cy="2502.7" r="5"/></g>
<g id="n498"><circle cx="411.3" cy="2522.9" r="5"/></g>
<g id="n499"><circle cx="345" cy="2543.2" r="5"/></g>
<g id="n500"><circle cx="345" cy="2563.5" r="5"/></g>
<g id="n501"><circle cx="378" cy="2543.2" r="5"/></g>
<g id="n502"><circle cx="378" cy="2563.5" r="5"/></g>
<g id="n503"><circle cx="378" cy="2583.7" r="5"/></g>
<g id="n504"><circle cx="378" cy="2604" r="5"/></g>
<g id="n505"><circle cx="411.3" cy="2543.2" r="5"/></g>
<g id="n506"><circle cx="411.3" cy="2563.5" r="5"/></g>
<g id="n507"><circle cx="444.7" cy="2543.2" r="5"/></g>
<g id="n508"><circle cx="444.7" cy="2563.5" r="5"/></g>
<g id="n509"><circle cx="444.7" cy="2583.7" r="5"/></g>
<g id="n510"><circle cx="444.7" cy="2604" r="5"/></g>
</g>
</svg>
